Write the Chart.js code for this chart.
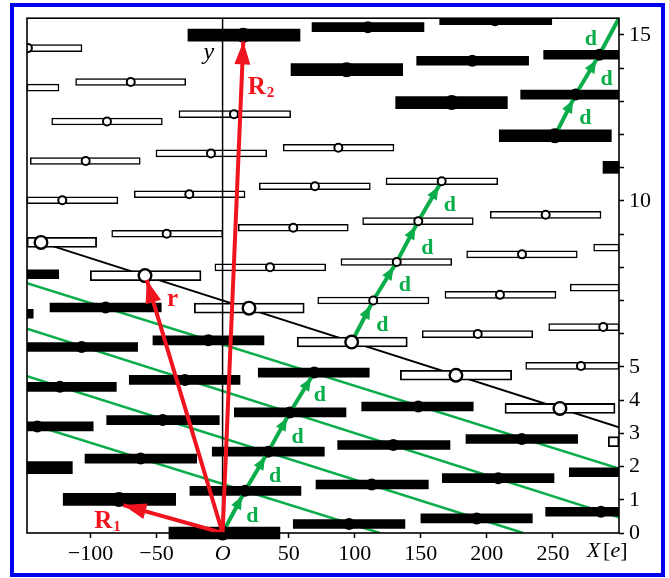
<!DOCTYPE html>
<html>
<head>
<meta charset="utf-8">
<title>Lattice</title>
<script src="https://cdn.jsdelivr.net/npm/chart.js@4.4.1/dist/chart.umd.min.js"></script>
<style>
  html, body { margin: 0; padding: 0; background: #fff; }
  canvas { display: block; }
</style>
</head>
<body>
<canvas id="latticeChart" width="669" height="578"></canvas>
<script>
// axis ticks
const xTickValues = [-100, -50, 0, 50, 100, 150, 200, 250];
const yTickValues = [0, 1, 2, 3, 4, 5, 6, 7, 8, 9, 10, 11, 12, 13, 14, 15];
const yTickLabels = [0, 1, 2, 3, 4, 5, 10, 15];

// bars: [xStart, xEnd, y]
const whiteBars = [
  [-148, -106.4, 14.60], [-111.2, -27.9, 13.58], [-148, -123.8, 13.41],
  [-33.0, 51.5, 12.61], [-129.3, -45.6, 12.39], [-50.4, 33.4, 11.43],
  [-145.5, -62.3, 11.20], [-66.8, 17.0, 10.20], [-148, -79.2, 10.02],
  [45.9, 129.7, 11.60], [27.8, 111.8, 10.44], [123.7, 208.2, 10.59],
  [-83.9, 0.1, 9.01], [-5.8, 78.0, 8.00], [11.9, 95.1, 9.19],
  [106.0, 189.7, 9.39], [89.6, 173.4, 8.16], [72.0, 156.2, 7.00],
  [168.3, 252.3, 7.17], [151.1, 234.7, 5.99], [202.6, 286.4, 9.58],
  [184.7, 268.4, 8.39], [280.8, 300, 8.59], [263.1, 300, 7.39],
  [246.8, 300, 6.20], [229.4, 300, 5.03]
];
const whiteWideBars = [
  [-148, -95.3, 8.75], [-100.1, -16.3, 7.75], [-21.4, 61.8, 6.77],
  [56.5, 139.8, 5.75], [134.5, 218.8, 4.75], [213.7, 297.0, 3.75],
  [291.9, 300, 2.75]
];
const blackBars = [
  [67.7, 152.4, 15.23], [164.3, 249.1, 15.44], [146.9, 231.6, 14.22],
  [243.0, 300, 14.40], [225.6, 300, 13.20], [-148, -124.0, 7.79],
  [-130.6, -46.4, 6.79], [-148, -143.3, 6.60], [-52.7, 31.3, 5.80],
  [-148, -64.3, 5.60], [-70.6, 13.2, 4.61], [-148, -80.4, 4.40],
  [27.0, 111.0, 4.83], [-87.7, -2.5, 3.40], [-148, -97.9, 3.21],
  [-104.1, -19.6, 2.24], [-7.8, 77.0, 2.45], [-24.7, 59.3, 1.27],
  [8.9, 93.4, 3.63], [105.3, 189.7, 3.81], [87.1, 172.1, 2.65],
  [70.7, 155.7, 1.46], [166.3, 250.8, 1.65], [53.5, 138.0, 0.27],
  [150.1, 234.4, 0.44], [184.2, 268.7, 2.83], [262.4, 300, 1.83],
  [244.5, 300, 0.64]
];
const blackThickBars = [
  [-26.2, 58.6, 14.99], [51.8, 136.3, 13.95], [131.0, 215.5, 12.96],
  [209.4, 294.2, 11.96], [287.9, 300, 11.01], [-148, -113.7, 1.97],
  [-120.6, -35.5, 1.01], [-40.6, 43.4, 0]
];

// sites: [x, y]
const whiteDots = [
  [-147.3, 14.60], [-69.5, 13.58], [8.6, 12.61], [-87.5, 12.39], [-8.8, 11.43],
  [-103.6, 11.20], [-25.2, 10.20], [-121.3, 10.02], [87.6, 11.60], [69.9, 10.44],
  [165.8, 10.59], [-42.3, 9.01], [35.9, 8.00], [53.5, 9.19], [148.1, 9.39],
  [131.8, 8.16], [114.0, 7.00], [209.9, 7.17], [193.1, 5.99], [244.5, 9.58],
  [226.6, 8.39], [288.1, 6.20], [271.2, 5.03]
];
const whiteBigDots = [
  [-137.4, 8.75], [-58.7, 7.75], [20.0, 6.77], [97.7, 5.75], [176.6, 4.75], [255.3, 3.75]
];
const blackDots = [
  [110.0, 15.23], [206.1, 15.44], [189.0, 14.22], [285.1, 14.40], [267.2, 13.20],
  [-88.5, 6.79], [-10.8, 5.80], [-106.6, 5.60], [-28.5, 4.61], [-123.1, 4.40],
  [69.4, 4.83], [-45.3, 3.40], [-140.2, 3.21], [-62.0, 2.24], [34.6, 2.45],
  [17.0, 1.27], [51.0, 3.63], [148.1, 3.81], [129.2, 2.65], [112.8, 1.46],
  [208.6, 1.65], [95.7, 0.27], [192.3, 0.44], [226.4, 2.83], [286.4, 0.64]
];
const blackBigDots = [
  [15.7, 14.99], [93.9, 13.95], [173.4, 12.96], [251.5, 11.96], [-78.4, 1.01], [0, 0]
];

// lines through the sites
const blackLine = [[-137.4, 8.75], [300, 3.18]];
const greenLines = [
  [[-148, 7.52], [300, 1.94]],
  [[-148, 6.15], [300, 0.47]],
  [[-148, 4.72], [227.5, 0]],
  [[-148, 3.31], [119, 0]]
];
const yAxisLine = [[0, 0], [0, 15.5]];

// vectors
const redArrows = [
  [[0, 0], [-75.1, 0.84]],
  [[0, 0], [-57.4, 7.62]],
  [[0, 0], [15.7, 14.80]]
];
const dChains = [
  [[0, 0], [17.0, 1.27], [34.6, 2.45], [51.0, 3.63], [69.4, 4.83]],
  [[97.7, 5.75], [114.0, 7.00], [131.8, 8.16], [148.1, 9.39], [165.8, 10.59]],
  [[251.5, 11.96], [267.2, 13.20], [285.1, 14.40]]
];
const dTail = [[285.1, 14.40], [300, 15.5]];

// text labels (x centre, baseline y)
const dLabelPos = [
  [22.6, 0.33], [39.7, 1.53], [56.8, 2.72], [73.7, 3.96],
  [120.9, 6.08], [138.0, 7.28], [154.9, 8.41], [172.1, 9.69],
  [278.7, 14.70], [290.7, 13.50], [274.6, 12.31]
];
const vectorLabels = [
  { text: 'R', sub: '2', x: 25.8, y: 13.23 },
  { text: 'R', sub: '1', x: -90.3, y: 0.14 },
  { text: 'r', x: -37.9, y: 6.82 }
];

const SERIF = "'Liberation Serif', 'DejaVu Serif', 'Times New Roman', serif";
const RED = '#f0141e';
const GREEN = '#0aad4a';

const toXY = a => a.map(p => ({ x: p[0], y: p[1] }));
const toBars = a => a.map(b => ({ x: [b[0], b[1]], y: b[2] }));

function barSet(rows, axis, thick, fill, border, order, clip) {
  return {
    type: 'bar', indexAxis: 'y', xAxisID: 'x', yAxisID: axis,
    data: toBars(rows), barThickness: thick,
    backgroundColor: fill, borderColor: '#000', borderWidth: border,
    borderSkipped: false, order: order, clip: clip
  };
}

function dotSet(points, r, fill, bw, order, clip) {
  return {
    type: 'scatter', xAxisID: 'x', yAxisID: 'y', data: toXY(points),
    pointStyle: 'circle', pointRadius: r, pointHoverRadius: r,
    pointBackgroundColor: fill, backgroundColor: fill,
    pointBorderColor: '#000', borderColor: '#000', pointBorderWidth: bw,
    order: order, clip: clip
  };
}

function lineSet(points, color, width, order, head) {
  return {
    type: 'line', xAxisID: 'x', yAxisID: 'y', data: toXY(points),
    borderColor: color, borderWidth: width, pointRadius: 0, fill: false,
    tension: 0, borderCapStyle: 'butt', order: order, clip: 0, head: head
  };
}

const hiddenY = () => ({
  type: 'linear', axis: 'y', position: 'right', display: false,
  min: 0, max: 15.5, offset: false, grid: { offset: false }
});

// higher order is drawn first
const datasets = [
  ...greenLines.map(l => lineSet(l, GREEN, 2.5, 24)),
  lineSet(blackLine, '#000', 2, 23),
  barSet(whiteWideBars, 'yWW', 10, '#fff', 1.8, 20, 0),
  barSet(whiteBars, 'yW', 7, '#fff', 1.5, 19, 0),
  barSet(blackBars, 'yB', 9, '#000', 0, 18, 0),
  barSet(blackThickBars, 'yBT', 12, '#000', 0, 17, false),
  lineSet(yAxisLine, '#000', 1.5, 15),
  ...dChains.map(c => lineSet(c, GREEN, 4, 12, { len: 13, width: 11, back: 6 })),
  lineSet(dTail, GREEN, 4, 12),
  dotSet(whiteDots, 4, '#fff', 2, 8, 0),
  dotSet(whiteBigDots, 6.3, '#fff', 2.4, 7, 0),
  dotSet(blackDots, 6, '#000', 0, 6, 0),
  dotSet(blackBigDots, 7.5, '#000', 0, 5, false),
  ...redArrows.map(a => lineSet(a, RED, 4, 2, { len: 23, width: 16, back: 0 }))
];

// arrow heads at the end of every segment of flagged datasets
const arrowHeads = {
  id: 'arrowHeads',
  afterDatasetDraw(chart, args) {
    const ds = chart.data.datasets[args.index];
    if (!ds.head) return;
    const pts = args.meta.data;
    const ctx = chart.ctx;
    const h = ds.head;
    ctx.save();
    ctx.fillStyle = ds.borderColor;
    for (let k = 1; k < pts.length; k++) {
      const a = pts[k - 1], b = pts[k];
      const ang = Math.atan2(b.y - a.y, b.x - a.x);
      const tx = b.x - Math.cos(ang) * h.back;
      const ty = b.y - Math.sin(ang) * h.back;
      const bx = tx - Math.cos(ang) * h.len;
      const by = ty - Math.sin(ang) * h.len;
      const nx = -Math.sin(ang) * h.width / 2;
      const ny = Math.cos(ang) * h.width / 2;
      ctx.beginPath();
      ctx.moveTo(tx, ty);
      ctx.lineTo(bx + nx, by + ny);
      ctx.lineTo(bx - nx, by - ny);
      ctx.closePath();
      ctx.fill();
    }
    ctx.restore();
  }
};

const decorations = {
  id: 'decorations',
  beforeDraw(chart) {
    const ctx = chart.ctx;
    ctx.save();
    ctx.fillStyle = '#fff';
    ctx.fillRect(0, 0, chart.width, chart.height);
    ctx.restore();
  },
  afterDatasetsDraw(chart) {
    const { ctx, chartArea: a } = chart;
    ctx.save();
    ctx.strokeStyle = '#000';
    ctx.lineWidth = 1.6;
    ctx.strokeRect(a.left, a.top, a.right - a.left, a.bottom - a.top);
    ctx.restore();
  },
  afterDraw(chart) {
    const { ctx, scales: { x, y } } = chart;
    ctx.save();
    ctx.textBaseline = 'alphabetic';

    // d labels
    ctx.fillStyle = GREEN;
    ctx.font = 'bold 22px ' + SERIF;
    ctx.textAlign = 'center';
    dLabelPos.forEach(p => ctx.fillText('d', x.getPixelForValue(p[0]), y.getPixelForValue(p[1])));

    // vector labels
    ctx.fillStyle = RED;
    vectorLabels.forEach(l => {
      const px = x.getPixelForValue(l.x), py = y.getPixelForValue(l.y);
      ctx.font = 'bold 25px ' + SERIF;
      ctx.textAlign = 'center';
      ctx.fillText(l.text, px, py);
      if (l.sub) {
        const w = ctx.measureText(l.text).width;
        ctx.font = 'bold 15px ' + SERIF;
        ctx.textAlign = 'left';
        ctx.fillText(l.sub, px + w / 2 + 1, py + 3);
      }
    });

    // axis names
    ctx.fillStyle = '#000';
    ctx.textAlign = 'center';
    ctx.font = 'italic 24px ' + SERIF;
    ctx.fillText('y', x.getPixelForValue(-10.4), y.getPixelForValue(14.27));

    ctx.textAlign = 'left';
    let px = x.getPixelForValue(275.5);
    const py = y.getPixelForValue(-0.73);
    ctx.font = 'italic 22px ' + SERIF;
    ctx.fillText('X', px, py);
    px += ctx.measureText('X').width + 3;
    ctx.font = '22px ' + SERIF;
    ctx.fillText('[', px, py);
    px += ctx.measureText('[').width;
    ctx.font = 'italic 22px ' + SERIF;
    ctx.fillText('e', px, py);
    px += ctx.measureText('e').width;
    ctx.font = '22px ' + SERIF;
    ctx.fillText(']', px, py);

    // outer blue frame
    ctx.strokeStyle = '#0000f0';
    ctx.lineWidth = 4;
    ctx.strokeRect(12, 5, 651, 570);
    ctx.restore();
  }
};

const ctx = document.getElementById('latticeChart').getContext('2d');

const latticeChart = new Chart(ctx, {
  type: 'scatter',
  data: { datasets: datasets },
  options: {
    responsive: false,
    animation: false,
    events: [],
    layout: { padding: { left: 27, top: 15, right: 0, bottom: 0 } },
    plugins: { legend: { display: false }, tooltip: { enabled: false } },
    scales: {
      x: {
        type: 'linear', position: 'bottom', min: -148, max: 300, offset: false,
        afterBuildTicks: s => { s.ticks = xTickValues.map(v => ({ value: v })); },
        afterFit: s => { s.height = 45; },
        border: { display: false },
        grid: { drawOnChartArea: false, drawTicks: true, tickLength: 5, tickWidth: 1.5, tickColor: '#000', offset: false },
        ticks: {
          color: '#000', padding: 3, maxRotation: 0, autoSkip: false,
          font: c => ({ family: SERIF, size: 22, style: (c.tick && c.tick.value === 0) ? 'italic' : 'normal' }),
          callback: v => v === 0 ? 'O' : (v < 0 ? '\u2212' + (-v) : String(v))
        }
      },
      y: {
        type: 'linear', position: 'right', min: 0, max: 15.5, offset: false,
        afterBuildTicks: s => { s.ticks = yTickValues.map(v => ({ value: v })); },
        afterFit: s => { s.width = 50; },
        border: { display: false },
        grid: { drawOnChartArea: false, drawTicks: true, tickLength: 5, tickWidth: 1.5, tickColor: '#000', offset: false },
        ticks: {
          color: '#000', padding: 5, autoSkip: false,
          font: { family: SERIF, size: 22 },
          callback: v => yTickLabels.includes(v) ? String(v) : ''
        }
      },
      yW: hiddenY(),
      yWW: hiddenY(),
      yB: hiddenY(),
      yBT: hiddenY()
    }
  },
  plugins: [arrowHeads, decorations]
});
</script>
</body>
</html>
